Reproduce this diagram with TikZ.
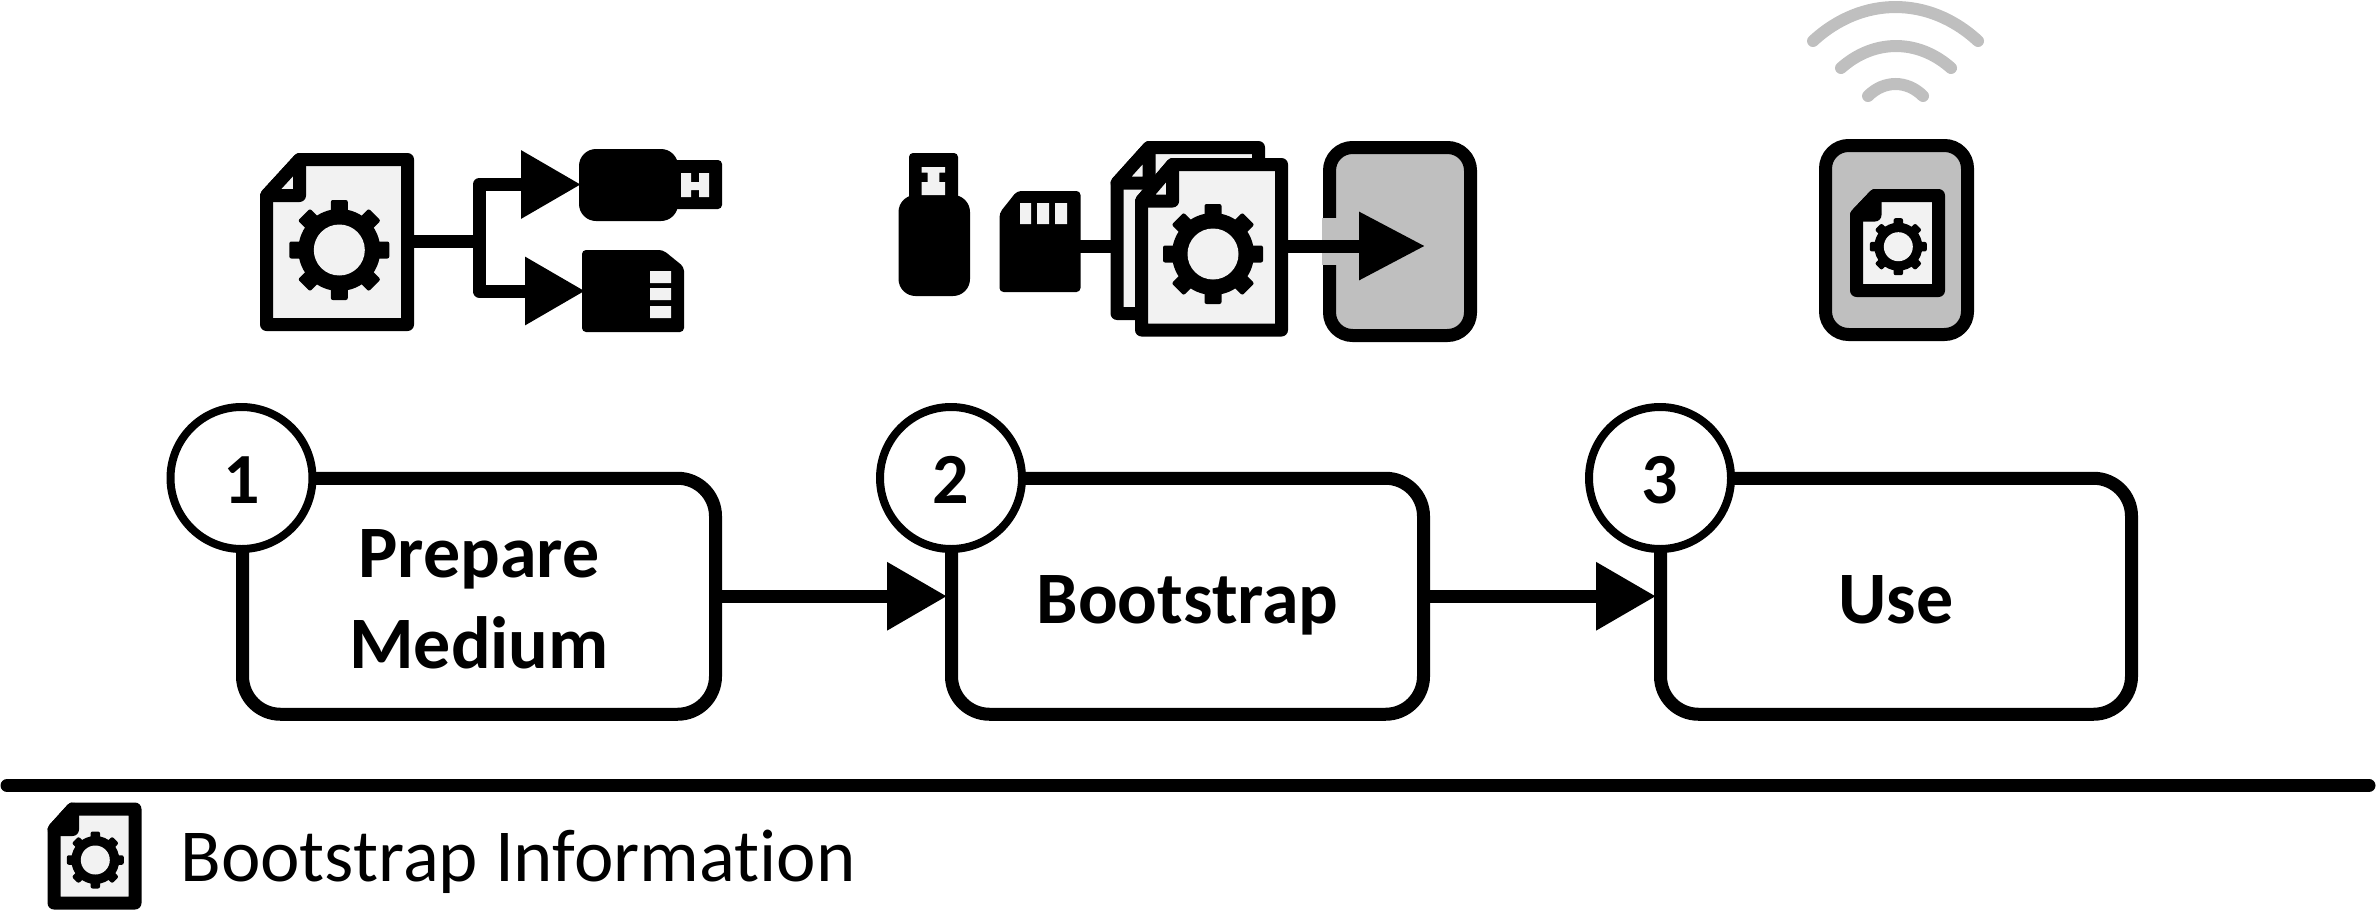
\documentclass[tikz,border=0pt]{standalone}
\usepackage{fontspec}
\setmainfont[Ligatures=NoCommon]{Carlito}
\usetikzlibrary{arrows.meta}
\definecolor{lightf}{HTML}{F2F2F2}
\definecolor{greyb}{HTML}{BFBFBF}
\tikzset{
  thick line/.style={line width=6.5pt,line join=round},
  conn/.style={thick line,draw=black},
  headtip/.style={conn,shorten >=-1pt,-{Triangle[length=30pt,width=32.5pt]}},
  stepbox/.style={draw=black,fill=white,line width=6.5pt,rounded corners=19pt,font=\fontsize{37}{45.5}\selectfont\bfseries,align=center,inner sep=0pt},
  numdisc/.style={circle,draw=black,fill=white,line width=4pt,minimum size=71pt,font=\fontsize{36}{40}\selectfont\bfseries,inner sep=0pt,text height=25.5pt,text depth=0pt},
  devicebox/.style={thick line,draw=black,fill=greyb,rounded corners=11.5pt},
  wave/.style={draw=greyb,line width=6pt,line cap=round},
  solid part/.style={fill=black,rounded corners=2pt},
  pale part/.style={fill=lightf}
}
% doc icon: L T R B foldx foldy foldfill
\newcommand{\mydoc}[7]{%
  \draw[thick line,fill=lightf] (#1,#6) -- (#5,#2) -- (#3,#2) -- (#3,#4) -- (#1,#4) -- cycle;
  \draw[thick line,fill=#7] (#5,#2) -- (#5,#6) -- (#1,#6) -- cycle;
}
% gear: cx cy holeR ringR toothR toothW
\newcommand{\mygear}[6]{%
  \begin{scope}[shift={(#1,#2)}]
    \foreach \a in {0,45,...,315}
      \fill[black,rotate=\a,rounded corners=1pt] (-#6/2,0) rectangle (#6/2,-#5);
    \fill[black] (0,0) circle[radius=#4*.5pt];
    \fill[lightf] (0,0) circle[radius=#3*.5pt];
  \end{scope}
}
\begin{document}
\begin{tikzpicture}[x=.5pt,y=-.5pt]
\useasboundingbox (0,0) rectangle (2376,910);

% ---------- step 1 icons
\coordinate (docA e) at (410,241);
\coordinate (fork) at (479,241);
\coordinate (usbA w) at (579,184.5);
\coordinate (sdA w) at (583,291);
\mydoc{266.5}{159.5}{407.5}{324.5}{299.5}{195.5}{lightf}
\mygear{339.3}{250}{25.5}{41}{50}{17}
\draw[conn] (docA e) -- (fork);
\draw[headtip] (fork) |- (usbA w);
\draw[headtip] (fork) |- (sdA w);
% usb (horizontal)
\fill[solid part] (660,160) rectangle (722,209);
\fill[black,rounded corners=8.5pt] (579,149) rectangle (678,221);
\fill[pale part] (681,173) rectangle (691,197) (691,182) rectangle (699,190) (699,173) rectangle (709,197);
% sd (horizontal)
\fill[solid part] (582,250) -- (663,250) -- (684,267) -- (684,332) -- (582,332) -- cycle;
\fill[pale part] (650,271) rectangle (671,283) (650,288) rectangle (671,300) (650,306) rectangle (671,318);

% ---------- step 2 icons
\coordinate (sdB e) at (1078,246);
\coordinate (docB w) at (1114,246);
\coordinate (docC e) at (1284,246);
\coordinate (devB tip) at (1425,246);
% usb (vertical)
\fill[solid part] (909,153) rectangle (958,230);
\fill[black,rounded corners=8.5pt] (898.5,195) rectangle (970,296);
\fill[pale part] (921.5,167) rectangle (945,172.5) (927.5,172.5) rectangle (939.3,182) (921.5,182) rectangle (945,195);
% sd (vertical)
\fill[solid part] (1017,191) -- (1080.5,191) -- (1080.5,292) -- (999.5,292) -- (999.5,213) -- cycle;
\fill[pale part] (1020,203) rectangle (1031,224) (1037,203) rectangle (1049,224) (1055,203) rectangle (1067,224);
\draw[conn] (sdB e) -- (docB w);
% docs
\mydoc{1117}{147.5}{1258.5}{313.5}{1149}{183}{lightf}
\mydoc{1141.5}{164.5}{1281.5}{330}{1172.6}{201}{lightf}
\mygear{1213}{254}{25.5}{41}{50}{17}
% device with opening
\draw[devicebox] (1329.5,147.5) rectangle (1470.5,335.5);
\fill[greyb] (1322,218) rectangle (1337,265);
\draw[conn,-{Triangle[length=33pt,width=32.5pt]}] (docC e) -- (devB tip);

% ---------- step 3 icons
\draw[devicebox] (1825.5,145.5) rectangle (1967.5,334.5);
\mydoc{1856.5}{195.5}{1938.5}{290.5}{1875}{215}{black}
\mygear{1898.3}{246.7}{14.5}{24}{28.5}{9.5}
\draw[wave] (1813,41) .. controls (1862,-4.3) and (1929,-4.3) .. (1978,41);
\draw[wave] (1841,68) .. controls (1874,38.7) and (1918,38.7) .. (1951,68);
\draw[wave] (1868,96) .. controls (1884,80) and (1907,80) .. (1923,96);

% ---------- process row
\node[stepbox,minimum width=236.5pt,minimum height=118pt] (prep) at (479,596.25) {\rule{0pt}{27pt}Prepare\\Medium};
\node[stepbox,minimum width=236pt,minimum height=118pt,text height=27pt,text depth=0pt] (boot) at (1187.5,596.25) {Bootstrap};
\node[stepbox,minimum width=235.5pt,minimum height=118pt,text height=27pt,text depth=0pt] (use) at (1896,596.25) {Use};
\draw[headtip] (prep) -- (boot);
\draw[headtip] (boot) -- (use);
\node[numdisc] (one) at (241.5,478) {1};
\node[numdisc] (two) at (951,478) {2};
\node[numdisc] (three) at (1660,478) {3};

% ---------- legend
\coordinate (ruleL) at (7,785.5);
\coordinate (ruleR) at (2369,785.5);
\draw[thick line,line cap=round] (ruleL) -- (ruleR);
\mydoc{54}{809}{135}{903}{72.5}{829.5}{black}
\mygear{95.3}{860}{14.5}{24}{28.5}{9.5}
\node[anchor=base west,inner sep=0pt,font=\fontsize{37.4}{40}\selectfont] (legend) at (180,881.5) {Bootstrap Information};
\end{tikzpicture}
\end{document}
